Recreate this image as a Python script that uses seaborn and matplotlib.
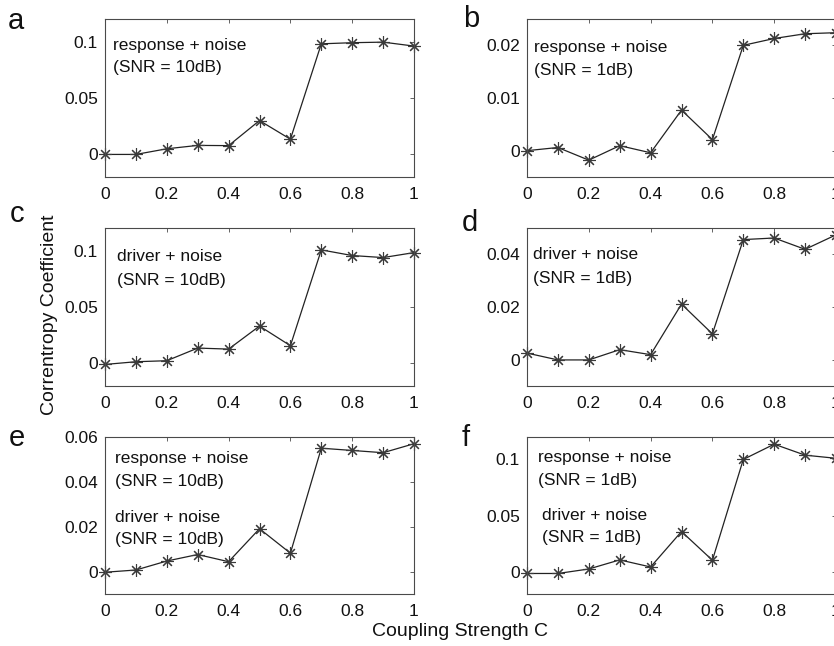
import numpy as np
import pandas as pd
import matplotlib
matplotlib.use("Agg")
import matplotlib.pyplot as plt
import seaborn as sns

coupling = [0.0, 0.1, 0.2, 0.3, 0.4, 0.5, 0.6, 0.7, 0.8, 0.9, 1.0]

panel_a = [0.0, 0.0, 0.005, 0.008, 0.0078, 0.030, 0.0135, 0.098, 0.099, 0.0995, 0.096]
panel_b = [0.0, 0.0006, -0.0018, 0.00095, -0.0004, 0.0077, 0.0021, 0.020, 0.0213, 0.0222, 0.0224]
panel_c = [-0.0009, 0.0015, 0.0024, 0.0136, 0.0127, 0.0331, 0.0157, 0.1006, 0.0956, 0.0938, 0.0982]
panel_d = [0.0025, -0.0001, -0.0001, 0.0038, 0.0019, 0.0211, 0.0098, 0.0456, 0.0462, 0.0419, 0.0474]
panel_e = [-0.0003, 0.0007, 0.0047, 0.0076, 0.0044, 0.0191, 0.0082, 0.055, 0.054, 0.053, 0.057]
panel_f = [-0.0017, -0.0017, 0.0023, 0.0104, 0.0041, 0.0357, 0.0101, 0.100, 0.1136, 0.1038, 0.101]

letters = ["a", "b", "c", "d", "e", "f"]
ylims = [(-0.02, 0.12), (-0.005, 0.025), (-0.02, 0.12), (-0.01, 0.05), (-0.01, 0.06), (-0.02, 0.12)]
yticks = [[0, 0.05, 0.1], [0, 0.01, 0.02], [0, 0.05, 0.1], [0, 0.02, 0.04], [0, 0.02, 0.04, 0.06], [0, 0.05, 0.1]]
yticklabels = [["0", "0.05", "0.1"], ["0", "0.01", "0.02"], ["0", "0.05", "0.1"],
               ["0", "0.02", "0.04"], ["0", "0.02", "0.04", "0.06"], ["0", "0.05", "0.1"]]
xticks = [0, 0.2, 0.4, 0.6, 0.8, 1.0]
xticklabels = ["0", "0.2", "0.4", "0.6", "0.8", "1"]
annotations = [
    [("response + noise", 0.026, 0.835), ("(SNR = 10dB)", 0.026, 0.695)],
    [("response + noise", 0.023, 0.82), ("(SNR = 1dB)", 0.023, 0.675)],
    [("driver + noise", 0.039, 0.82), ("(SNR = 10dB)", 0.039, 0.67)],
    [("driver + noise", 0.02, 0.83), ("(SNR = 1dB)", 0.02, 0.68)],
    [("response + noise", 0.032, 0.866), ("(SNR = 10dB)", 0.032, 0.715),
     ("driver + noise", 0.032, 0.485), ("(SNR = 10dB)", 0.032, 0.345)],
    [("response + noise", 0.036, 0.87), ("(SNR = 1dB)", 0.036, 0.72),
     ("driver + noise", 0.049, 0.50), ("(SNR = 1dB)", 0.049, 0.36)],
]
xlabel = "Coupling Strength C"
ylabel = "Correntropy Coefficient"

sns.set_style("white")
plt.rcParams['font.family'] = ['Liberation Sans', 'DejaVu Sans']

W, H = 834, 646
fig = plt.figure(figsize=(W / 100, H / 100), dpi=100)

col_left = [105, 527]
row_top = [19, 228, 437]
row_bot = [177, 386, 594]
ax_w = 309

series = [panel_a, panel_b, panel_c, panel_d, panel_e, panel_f]
letter_pos = [(16, 29), (471, 27), (17, 222), (470, 231), (17, 446), (466, 446)]

spine_col = "#4a4a4a"
for i, vals in enumerate(series):
    r, c = i // 2, i % 2
    left = col_left[c] / W
    bottom = 1 - row_bot[r] / H
    height = (row_bot[r] - row_top[r]) / H
    ax = fig.add_axes([left, bottom, ax_w / W, height])
    df = pd.DataFrame({"C": coupling, "v": vals})
    sns.lineplot(data=df, x="C", y="v", ax=ax, color="#222222", linewidth=0.9,
                 marker=(8, 2, 0), markersize=9, markeredgecolor="#3a3a3a",
                 markeredgewidth=0.8, clip_on=False)
    ax.set_xlim(0, 1)
    ax.set_ylim(*ylims[i])
    ax.set_xticks(xticks)
    ax.set_xticklabels(xticklabels)
    ax.set_yticks(yticks[i])
    ax.set_yticklabels(yticklabels[i])
    ax.set_xlabel("")
    ax.set_ylabel("")
    ax.tick_params(direction="in", length=3, width=0.6, colors=spine_col,
                   labelcolor="#111111", labelsize=12.5, top=True, right=True)
    ax.tick_params(axis="x", pad=7)
    ax.tick_params(axis="y", pad=5)
    for s in ax.spines.values():
        s.set_color(spine_col)
        s.set_linewidth(0.8)
        s.set_visible(True)
    for txt, x, y in annotations[i]:
        ax.text(x, y, txt, transform=ax.transAxes, fontsize=12.5,
                va="center", ha="left", color="#111111")
    lx, ly = letter_pos[i]
    fig.text(lx / W, 1 - ly / H, letters[i], fontsize=21, ha="center",
             va="baseline", color="#111111")

fig.text(50 / W, 1 - 315 / H, ylabel, rotation=90, ha="center", va="center",
         fontsize=14, color="#111111")
fig.text(460 / W, 1 - 631 / H, xlabel, ha="center", va="center",
         fontsize=14, color="#111111")

fig.savefig("out.png", dpi=100)
